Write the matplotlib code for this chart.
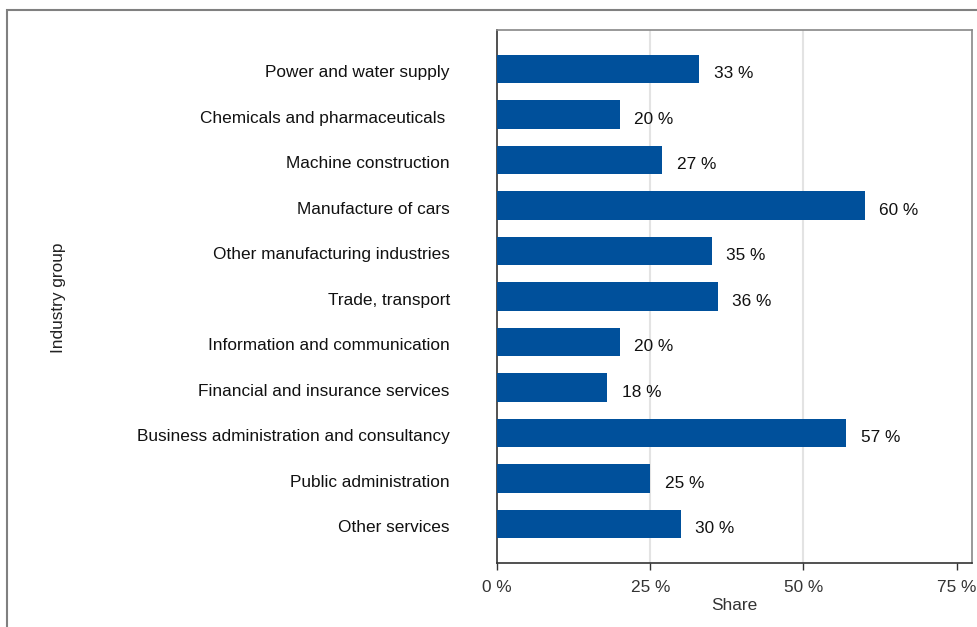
import matplotlib
matplotlib.use("Agg")
import matplotlib.pyplot as plt
from matplotlib.patches import Rectangle
from matplotlib.ticker import FuncFormatter
from matplotlib.transforms import ScaledTranslation

plt.rcParams["font.family"] = ["Liberation Sans", "DejaVu Sans"]

industries = [
    "Power and water supply",
    "Chemicals and pharmaceuticals ",
    "Machine construction",
    "Manufacture of cars",
    "Other manufacturing industries",
    "Trade, transport",
    "Information and communication",
    "Financial and insurance services",
    "Business administration and consultancy",
    "Public administration",
    "Other services",
]
shares = [33, 20, 27, 60, 35, 36, 20, 18, 57, 25, 30]
x_ticks = [0, 25, 50, 75]

W, H = 977, 627
FS = 12.4
fig = plt.figure(figsize=(W / 100, H / 100), dpi=100)

# outer panel frame
fig.patches.append(Rectangle((7 / W, -0.5), 2.0, 1.5 - 10 / H, transform=fig.transFigure,
                             fill=False, edgecolor="#808080", linewidth=1.5, clip_on=False))

ax = fig.add_axes([497 / W, 1 - 563 / H, (972 - 497) / W, (563 - 30) / H])

ypos = list(range(len(industries)))
ax.barh(ypos, shares, height=0.62, color="#00509b", zorder=3)
for y, v in zip(ypos, shares):
    ax.annotate(f"{v} %", (v, y), xytext=(10.5, -3.5), textcoords="offset points",
                ha="left", va="center", fontsize=FS, color="#111111")

for g in (25, 50):
    ax.axvline(g, color="#e3e3e3", linewidth=1.5, zorder=1)

ax.set_xlim(0, 77.5)
ax.set_ylim(len(industries) - 1 + 0.857, -0.857)
ax.set_yticks(ypos)
ax.set_yticklabels(industries, fontsize=FS, color="#111111")
ax.tick_params(axis="y", length=0, pad=34)
shift = ScaledTranslation(0, -1.5 / 72, fig.dpi_scale_trans)
for lbl in ax.get_yticklabels():
    lbl.set_transform(lbl.get_transform() + shift)
ax.set_xticks(x_ticks)
ax.xaxis.set_major_formatter(FuncFormatter(lambda v, p: f"{v:.0f} %"))
ax.tick_params(axis="x", length=5, width=1, color="#333333", labelsize=FS,
               labelcolor="#333333", pad=7)

for side in ("left", "bottom"):
    ax.spines[side].set_color("#333333")
    ax.spines[side].set_linewidth(1.2)
for side in ("top", "right"):
    ax.spines[side].set_color("#888888")
    ax.spines[side].set_linewidth(1.2)

ax.set_xlabel("Share", fontsize=FS, color="#333333", labelpad=2.5)
fig.text(58 / W, 1 - 298 / H, "Industry group", rotation=90, ha="center", va="center",
         fontsize=FS, color="#222222")

fig.savefig("out.png", dpi=100)
